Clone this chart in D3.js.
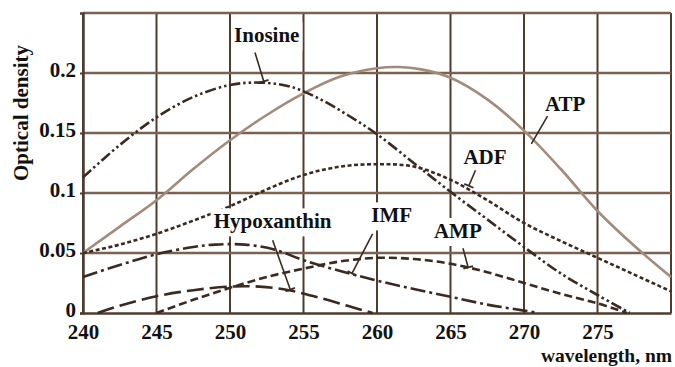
<!DOCTYPE html>
<html>
<head>
<meta charset="utf-8">
<script src="https://cdn.jsdelivr.net/npm/d3@7"></script>
<style>
  body { margin: 0; background: #fff; }
  svg { display: block; font-family: "Liberation Serif", "DejaVu Serif", serif; }
</style>
</head>
<body>
<div id="chart"></div>
<script>
// wavelength (nm) / optical density
const atpX = [240, 242.5, 245, 247.5, 250, 252.5, 255, 257.5, 260, 261.5, 263, 265, 267.5, 270, 272.5, 275, 277.5, 280];
const atpY = [0.05, 0.072, 0.094, 0.12, 0.144, 0.165, 0.183, 0.197, 0.204, 0.205, 0.203, 0.196, 0.178, 0.152, 0.12, 0.085, 0.056, 0.03];

const inosineX = [240, 242.5, 245, 247.5, 250, 252, 254, 256, 258, 260, 262.5, 265, 267.5, 270, 272.5, 275, 277.2];
const inosineY = [0.113, 0.14, 0.163, 0.18, 0.19, 0.192, 0.189, 0.179, 0.165, 0.149, 0.125, 0.101, 0.078, 0.055, 0.033, 0.015, 0.0];

const adfX = [240, 242.5, 245, 247.5, 250, 252.5, 255, 257.5, 260, 262.5, 265, 267.5, 270, 272.5, 275, 277.5, 280];
const adfY = [0.05, 0.057, 0.066, 0.077, 0.089, 0.103, 0.115, 0.122, 0.124, 0.122, 0.111, 0.094, 0.075, 0.06, 0.046, 0.032, 0.018];

const imfX = [240, 242.5, 245, 247.5, 249, 251, 253, 255, 257.5, 260, 262.5, 265, 267.5, 270, 271];
const imfY = [0.03, 0.04, 0.049, 0.055, 0.057, 0.057, 0.053, 0.044, 0.035, 0.027, 0.02, 0.0135, 0.007, 0.002, 0];

const hypoX = [241, 242.5, 245, 247.5, 250, 252, 254, 256, 258, 259.7];
const hypoY = [0, 0.006, 0.014, 0.019, 0.022, 0.022, 0.019, 0.013, 0.006, 0];

const ampX = [245, 247.5, 250, 252.5, 255, 257.5, 260, 262.5, 265, 267.5, 270, 272.5, 275, 277];
const ampY = [0, 0.011, 0.021, 0.03, 0.037, 0.043, 0.046, 0.045, 0.041, 0.034, 0.025, 0.016, 0.008, 0];

const xTicks = [240, 245, 250, 255, 260, 265, 270, 275];
const yTicks = [0, 0.05, 0.1, 0.15, 0.2];
const yTickLabels = ["0", "0.05", "0.1", "0.15", "0.2"];

// labels: name, text anchor (wl, od), leader from / to (wl, od)
const labelNames = ["Inosine", "ATP", "ADF", "Hypoxanthin", "IMF", "AMP"];
const labelPos = [[252.5, 0.2255], [272.8, 0.168], [267.35, 0.1245], [252.9, 0.0705], [261.0, 0.0755], [265.5, 0.0625]];
const leaderFrom = [[251.7, 0.217], [271.6, 0.164], [266.7, 0.119], [252.9, 0.0606], [259.7, 0.066], [265.85, 0.054]];
const leaderTo = [[252.3, 0.193], [270.5, 0.141], [266.25, 0.106], [254.1, 0.0195], [258.3, 0.033], [266.2, 0.038]];

const width = 675;
const height = 367;
const margin = { top: 13, right: 4, bottom: 54, left: 83 };

const lineColor = "#3a2a20";
const gridV = "#4e3c30";
const gridH = "#7a6252";
const atpColor = "#a38b7b";

const svg = d3.select("#chart")
  .append("svg")
  .attr("width", width)
  .attr("height", height);

const x = d3.scaleLinear()
  .domain([240, 280])
  .range([margin.left, width - margin.right]);

const y = d3.scaleLinear()
  .domain([0, 0.25])
  .range([height - margin.bottom, margin.top]);

// grid
svg.append("g")
  .selectAll("line")
  .data(xTicks.concat([280]))
  .join("line")
  .attr("x1", (d) => x(d))
  .attr("x2", (d) => x(d))
  .attr("y1", y(0))
  .attr("y2", y(0.25))
  .attr("stroke", gridV)
  .attr("stroke-width", 2);

svg.append("g")
  .selectAll("line")
  .data([0.05, 0.1, 0.15, 0.2, 0.25])
  .join("line")
  .attr("x1", x(240))
  .attr("x2", x(280))
  .attr("y1", (d) => y(d))
  .attr("y2", (d) => y(d))
  .attr("stroke", gridH)
  .attr("stroke-width", 2.5);

// axes
const xAxis = svg.append("g")
  .attr("transform", `translate(0, ${y(0)})`)
  .call(d3.axisBottom(x).tickValues(xTicks).tickSize(0).tickPadding(10));

const yAxis = svg.append("g")
  .attr("transform", `translate(${x(240)}, 0)`)
  .call(d3.axisLeft(y).tickValues(yTicks).tickSize(3).tickPadding(4)
    .tickFormat((d, i) => yTickLabels[i]));

[xAxis, yAxis].forEach((g) => {
  g.select(".domain").attr("stroke", gridV).attr("stroke-width", 2.5);
  g.selectAll(".tick line").attr("stroke", gridV).attr("stroke-width", 2);
  g.selectAll("text")
    .attr("fill", "#111")
    .style("font-family", "'Liberation Serif', serif")
    .style("font-size", "21px")
    .style("font-weight", "bold");
});
xAxis.selectAll("text").attr("dy", "0.75em");
yAxis.selectAll("text").attr("dy", "0.15em");

svg.append("text")
  .attr("transform", `translate(28, ${(y(0.25) + y(0.1)) / 2 + 10}) rotate(-90)`)
  .attr("text-anchor", "middle")
  .attr("fill", "#111")
  .style("font-size", "21px")
  .style("font-weight", "bold")
  .text("Optical density");

svg.append("text")
  .attr("x", width - 3)
  .attr("y", 361.5)
  .attr("text-anchor", "end")
  .attr("fill", "#111")
  .style("font-size", "19.5px")
  .style("font-weight", "bold")
  .text("wavelength, nm");

// curves
const series = [
  { xs: atpX, ys: atpY, color: atpColor, dash: null },
  { xs: inosineX, ys: inosineY, color: lineColor, dash: "11,3,2.5,3,2.5,3" },
  { xs: adfX, ys: adfY, color: lineColor, dash: "4,2.5" },
  { xs: imfX, ys: imfY, color: lineColor, dash: "15,4,3,4" },
  { xs: hypoX, ys: hypoY, color: lineColor, dash: "17,6" },
  { xs: ampX, ys: ampY, color: lineColor, dash: "8,4" },
];

const line = d3.line()
  .x((d) => x(d[0]))
  .y((d) => y(d[1]))
  .curve(d3.curveCatmullRom);

svg.append("g")
  .selectAll("path")
  .data(series)
  .join("path")
  .attr("d", (s) => line(s.xs.map((v, i) => [v, s.ys[i]])))
  .attr("fill", "none")
  .attr("stroke", (s) => s.color)
  .attr("stroke-width", 2.6)
  .attr("stroke-dasharray", (s) => s.dash);

// labels
const labels = svg.append("g")
  .selectAll("g")
  .data(labelNames)
  .join("g");

labels.append("text")
  .attr("x", (d, i) => x(labelPos[i][0]))
  .attr("y", (d, i) => y(labelPos[i][1]))
  .attr("text-anchor", "middle")
  .attr("fill", "#111")
  .style("font-size", "21px")
  .style("font-weight", "bold")
  .text((d) => d);

labels.insert("rect", "text")
  .each(function () {
    const bb = this.parentNode.querySelector("text").getBBox();
    d3.select(this)
      .attr("x", bb.x - 3)
      .attr("y", bb.y - 1)
      .attr("width", bb.width + 6)
      .attr("height", bb.height + 4)
      .attr("fill", "#fff");
  });

labels.append("line")
  .attr("x1", (d, i) => x(leaderFrom[i][0]))
  .attr("y1", (d, i) => y(leaderFrom[i][1]))
  .attr("x2", (d, i) => x(leaderTo[i][0]))
  .attr("y2", (d, i) => y(leaderTo[i][1]))
  .attr("stroke", lineColor)
  .attr("stroke-width", 1.6);

// small crossbar where each leader meets its curve (not on ATP)
labels.filter((d) => d !== "ATP")
  .append("line")
  .each(function (d) {
    const i = labelNames.indexOf(d);
    const x0 = x(leaderFrom[i][0]), y0 = y(leaderFrom[i][1]);
    const x1 = x(leaderTo[i][0]), y1 = y(leaderTo[i][1]);
    const len = Math.hypot(x1 - x0, y1 - y0);
    const px = -(y1 - y0) / len * 5, py = (x1 - x0) / len * 5;
    d3.select(this)
      .attr("x1", x1 - px).attr("y1", y1 - py)
      .attr("x2", x1 + px).attr("y2", y1 + py);
  })
  .attr("stroke", lineColor)
  .attr("stroke-width", 1.8);
</script>
</body>
</html>
